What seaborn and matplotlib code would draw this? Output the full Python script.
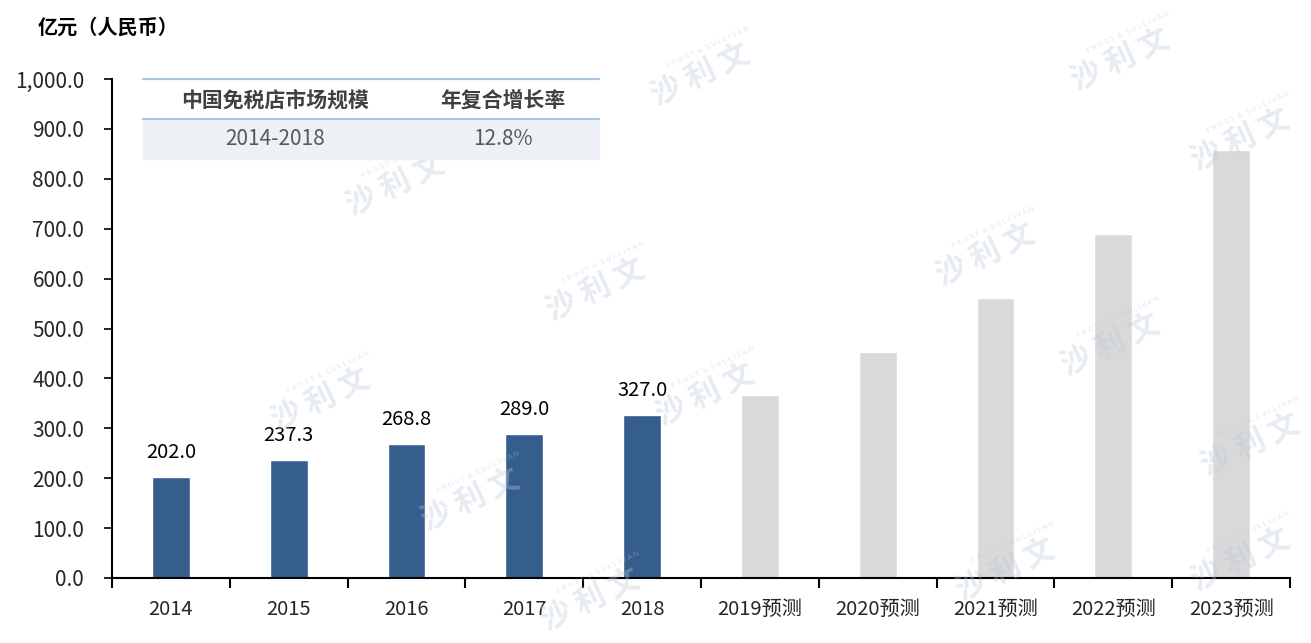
import matplotlib
matplotlib.use("Agg")
import matplotlib.pyplot as plt
from matplotlib.lines import Line2D
from matplotlib.patches import Rectangle
from matplotlib.ticker import FixedLocator, FuncFormatter
import seaborn as sns

# data
years = ["2014", "2015", "2016", "2017", "2018",
         "2019预测", "2020预测", "2021预测", "2022预测", "2023预测"]
values = [202.0, 237.3, 268.8, 289.0, 327.0, 367.0, 453.0, 561.0, 689.0, 858.0]
actual_n = 5
table_header = ["中国免税店市场规模", "年复合增长率"]
table_row = ["2014-2018", "12.8%"]

blue = "#355e8d"
grey = "#d9d9d9"
colors = [blue] * actual_n + [grey] * (len(years) - actual_n)

sns.set_style("white")
plt.rcParams['font.family'] = ['Noto Sans CJK SC', 'DejaVu Sans']

W, H = 1311, 643
fig = plt.figure(figsize=(W / 100, H / 100), dpi=100)
ax = fig.add_axes([112 / W, 1 - 578 / H, (1290 - 112) / W, (578 - 79) / H])


def px(x, y):
    return x / W, 1 - y / H


# watermarks (decoration)
wm = [(700, 75), (1120, 60), (1240, 140), (395, 185), (595, 290), (985, 255),
      (1110, 345), (705, 395), (320, 400), (1250, 445), (470, 500), (1005, 570),
      (1240, 560), (590, 600)]
for x, y in wm:
    fig.text(*px(x, y), "沙 利 文", fontsize=22, color="#b8c8da", alpha=0.35,
             rotation=25, ha="center", va="center", fontweight="bold", zorder=0)
    fig.text(*px(x + 8, y - 28), "F R O S T  &  S U L L I V A N", fontsize=5.5,
             color="#b8c8da", alpha=0.4, rotation=25, ha="center", va="center", zorder=0)

ax.patch.set_alpha(0)
sns.barplot(x=years, y=values, hue=years, palette=colors, width=0.32,
            legend=False, ax=ax, saturation=1, zorder=2)

for i, container in enumerate(ax.containers):
    if i < actual_n:
        ax.bar_label(container, labels=[f"{values[i]:.1f}"], padding=10,
                     fontsize=14.5, color="#000000")

ax.set_xlim(-0.5, len(years) - 0.5)
ax.set_ylim(0, 1000)
ax.set_yticks(range(0, 1001, 100))
ax.yaxis.set_major_formatter(FuncFormatter(lambda v, p: f"{v:,.1f}"))
ax.set_xlabel("")
ax.set_ylabel("")

for s in ["top", "right"]:
    ax.spines[s].set_visible(False)
for s in ["left", "bottom"]:
    ax.spines[s].set_color("black")
    ax.spines[s].set_linewidth(1.5)

ax.tick_params(axis="y", which="major", length=6, width=1.2, color="black",
               left=True, labelsize=15, pad=14, direction="out")
ax.tick_params(axis="x", which="major", length=0, labelsize=14.5, pad=15)
ax.xaxis.set_minor_locator(FixedLocator([i - 0.5 for i in range(len(years) + 1)]))
ax.tick_params(axis="x", which="minor", length=7, width=1.5, color="black",
               bottom=True, direction="out")

# title
fig.text(*px(38, 27), "亿元（人民币）", fontsize=14.5, fontweight="bold",
         ha="left", va="center", color="black")

# summary table
x0, x1 = 143, 599
fig.add_artist(Rectangle(px(x0, 159), (x1 - x0) / W, 40 / H,
                         transform=fig.transFigure, color="#edf1f6", zorder=3))
for yy in (79, 119):
    fig.add_artist(Line2D([x0 / W, x1 / W], [1 - yy / H, 1 - yy / H],
                          transform=fig.transFigure, color="#a9c6e4", lw=1.6, zorder=4))
cols = [275, 503]
for c, h, r in zip(cols, table_header, table_row):
    fig.text(*px(c, 100), h, fontsize=15, fontweight="bold", color="#404040",
             ha="center", va="center", zorder=5)
    fig.text(*px(c, 139), r, fontsize=15, color="#595959",
             ha="center", va="center", zorder=5)

fig.savefig("out.png", dpi=100)
